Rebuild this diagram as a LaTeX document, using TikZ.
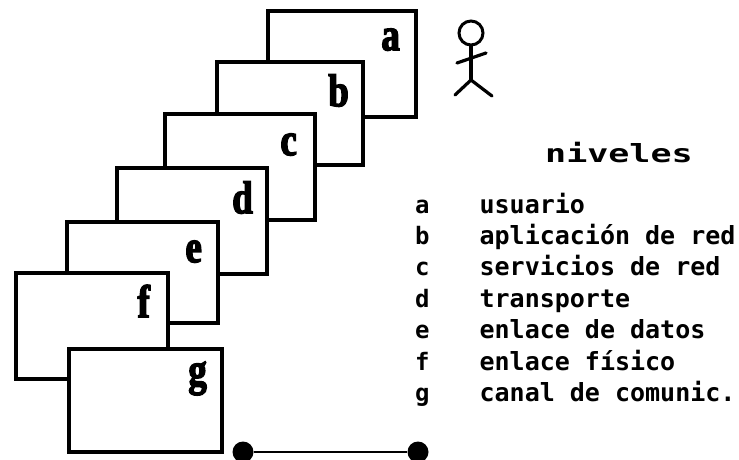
\documentclass[tikz,border=0pt]{standalone}
\usepackage{fontspec}
\usetikzlibrary{positioning}
\newfontfamily\keyfont{DejaVu Sans Mono}
\newfontfamily\widefont[FakeStretch=1.4]{DejaVu Sans Mono}
\newfontfamily\tagfont[FakeStretch=0.8,BoldFeatures={FakeBold=3}]{Liberation Serif}

\begin{document}
\begin{tikzpicture}[
				x=1pt, y=1pt,
				level/.style={rectangle, draw=black, fill=white, line width=3.6pt, outer sep=0pt, anchor=north west},
				tag/.style={inner sep=0pt, text height=33pt, text depth=0pt, font=\tagfont\bfseries\fontsize{46}{46}\selectfont},
				legkey/.style={inner sep=0pt, text width=15pt, text height=18pt, text depth=13pt, font=\keyfont\bfseries\fontsize{24}{24}\selectfont},
				legtext/.style={inner sep=0pt, text height=18pt, text depth=13pt, font=\keyfont\bfseries\fontsize{25}{25}\selectfont},
				dot/.style={circle, fill=black, minimum size=21pt, inner sep=0pt},
				limb/.style={line width=3.2pt, line cap=round}
			]
			\useasboundingbox (0,0) rectangle (739,-460);
			% the stacked levels, back to front
			\node[level, minimum width=148pt, minimum height=106pt] (a) at (268,-11) {};
			\node[level, minimum width=146pt, minimum height=103pt] (b) at (217,-62) {};
			\node[level, minimum width=150pt, minimum height=106pt] (c) at (165,-114) {};
			\node[level, minimum width=150pt, minimum height=106pt] (d) at (117,-168) {};
			\node[level, minimum width=151pt, minimum height=101pt] (e) at (67,-222) {};
			\node[level, minimum width=152pt, minimum height=106pt] (f) at (16,-273) {};
			\node[level, minimum width=153pt, minimum height=103pt] (g) at (69,-349) {};
			\node[tag] (taga) [below left=6pt and 16pt of a.north east] {a};
			\node[tag] (tagb) [below left=11pt and 14pt of b.north east] {b};
			\node[tag] (tagc) [below left=8pt and 18pt of c.north east] {c};
			\node[tag] (tagd) [below left=12pt and 14pt of d.north east] {d};
			\node[tag] (tage) [below left=7pt and 16pt of e.north east] {e};
			\node[tag] (tagf) [below left=11pt and 18pt of f.north east] {f};
			\node[tag] (tagg) [below left=3pt and 15pt of g.north east] {g};
			% stick figure
			\node[circle, draw=black, line width=3pt, minimum size=24pt, inner sep=0pt] (head) at (471,-33) {};
			\coordinate (hip) at (471,-80);
			\coordinate (handl) at (457,-63);
			\coordinate (handr) at (486,-53);
			\coordinate (footl) at (455,-95);
			\coordinate (footr) at (492,-96);
			\draw[limb] (head.south) -- (hip);
			\draw[limb] (handl) -- (handr);
			\draw[limb] (footl) -- (hip) -- (footr);
			% legend
			\node[inner sep=0pt, anchor=base west, font=\widefont\bfseries\fontsize{25}{25}\selectfont] (title) at (545,-162) {niveles};
			\node[legkey, anchor=base west] (keya) at (415,-213) {a};
			\node[legkey] (keyb) [below=0pt of keya] {b};
			\node[legkey] (keyc) [below=0pt of keyb] {c};
			\node[legkey] (keyd) [below=0pt of keyc] {d};
			\node[legkey] (keye) [below=0pt of keyd] {e};
			\node[legkey] (keyf) [below=0pt of keye] {f};
			\node[legkey] (keyg) [below=0pt of keyf] {g};
			\node[legtext] (texta) [right=49pt of keya] {usuario};
			\node[legtext] (textb) [right=49pt of keyb] {aplicación de red};
			\node[legtext] (textc) [right=49pt of keyc] {servicios de red};
			\node[legtext] (textd) [right=49pt of keyd] {transporte};
			\node[legtext] (texte) [right=49pt of keye] {enlace de datos};
			\node[legtext] (textf) [right=49pt of keyf] {enlace físico};
			\node[legtext] (textg) [right=49pt of keyg] {canal de comunic.};
			% the link at the bottom
			\node[dot] (linkl) at (243,-452) {};
			\node[dot] (linkr) at (418,-452) {};
			\draw[line width=2.8pt] (linkl) -- (linkr);
			\end{tikzpicture}
\end{document}
